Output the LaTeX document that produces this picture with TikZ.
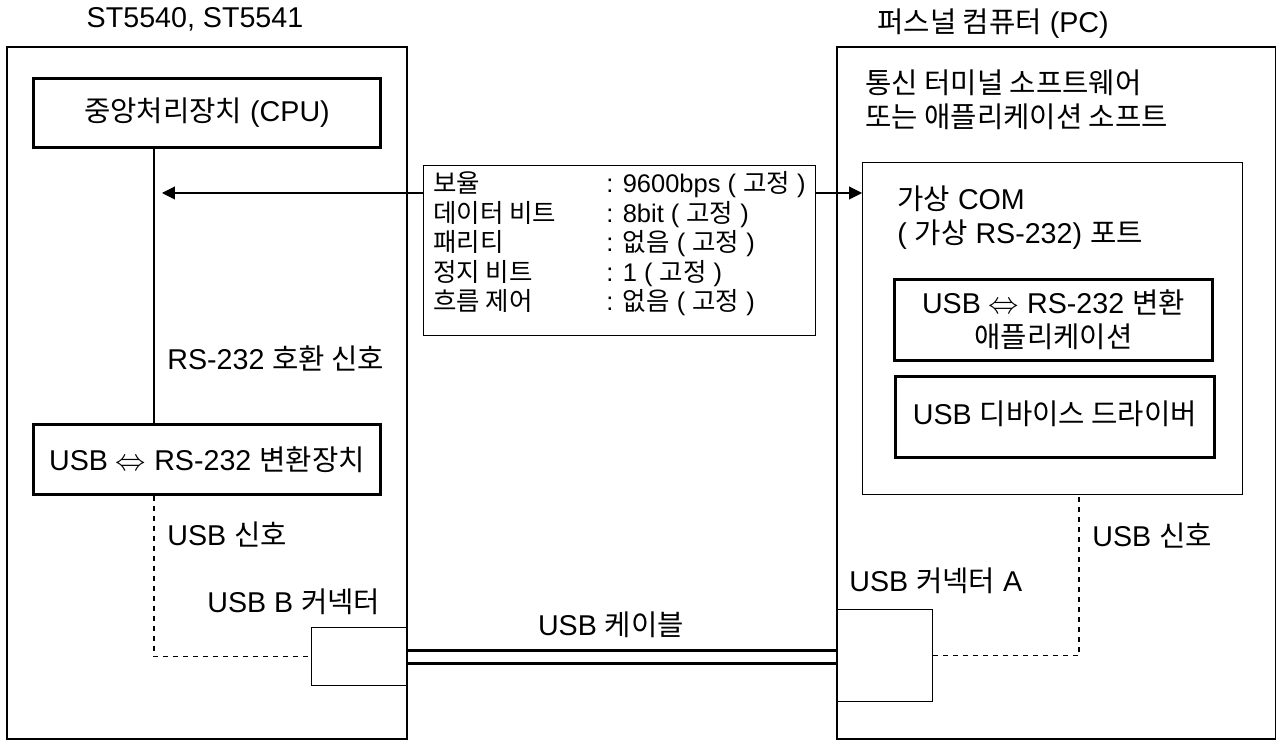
\documentclass[tikz,border=0pt]{standalone}
\usepackage{fontspec}
\setmainfont{Liberation Sans}
\newfontfamily\kr{Noto Sans CJK KR}
\usetikzlibrary{arrows.meta}

\tikzset{
    thinbox/.style={draw, line width=0.6pt, inner sep=0pt, anchor=north west, align=center},
    thickbox/.style={draw, line width=1.7pt, inner sep=0pt, anchor=north west, align=center},
    txt/.style={inner sep=0pt, align=left},
    sig/.style={line width=0.6pt, -{Triangle[length=0.26cm, width=0.26cm]}},
    usbline/.style={line width=0.6pt, dash pattern=on 0.1cm off 0.1cm},
    cable/.style={line width=1.7pt},
}

\begin{document}
\begin{tikzpicture}[x=0.02cm, y=-0.02cm, font=\fontsize{16.3}{19.5}\selectfont]
    \useasboundingbox (0,0) rectangle (1277,742);

    % LEFT: ST5540 / ST5541
    \node[txt] (devtitle) at (195,19) {ST5540, ST5541};
    \draw[line width=0.6pt] (7,47) rectangle (407,739);

    \node[thickbox, minimum width=6.94cm, minimum height=1.38cm] (cpu) at (32,77) {{\kr 중앙처리장치} (CPU)};
    \node[thickbox, minimum width=6.94cm, minimum height=1.40cm] (conv) at (32,423) {USB $\Leftrightarrow$ RS-232 {\kr 변환장치}};
    \node[thinbox, minimum width=1.92cm, minimum height=1.16cm] (lconn) at (311,627) {};

    \node[txt, anchor=west] (rstxt) at (167,358) {RS-232 {\kr 호환 신호}};
    \node[txt, anchor=west] (lusbtxt) at (167,535) {USB {\kr 신호}};
    \node[txt, anchor=west] (lconntxt) at (207,602) {USB B {\kr 커넥터}};

    % RIGHT: PC
    \node[txt] (pctitle) at (993,24) {{\kr 퍼스널 컴퓨터} (PC)};
    \draw[line width=0.6pt] (837,47) rectangle (1275.7,739);

    \node[txt, anchor=west] (softtxt) at (865,99.5) {{\kr 통신 터미널 소프트웨어}\\{\kr 또는 애플리케이션 소프트}};
    \node[thinbox, minimum width=7.60cm, minimum height=6.64cm] (port) at (862,162) {};
    \node[txt, anchor=west] (porttxt) at (897,217.5) {{\kr 가상} COM\\( {\kr 가상} RS-232) {\kr 포트}};
    \node[thickbox, minimum width=6.36cm, minimum height=1.62cm] (app) at (893,278) {USB $\Leftrightarrow$ RS-232 {\kr 변환}\\{\kr 애플리케이션}};
    \node[thickbox, minimum width=6.38cm, minimum height=1.62cm] (drv) at (894,375) {\raisebox{5pt}{USB {\kr 디바이스 드라이버}}};
    \node[thinbox, minimum width=1.90cm, minimum height=1.84cm] (rconn) at (837,609) {};

    \node[txt, anchor=west] (rusbtxt) at (1092,536) {USB {\kr 신호}};
    \node[txt, anchor=west] (rconntxt) at (849,581) {USB {\kr 커넥터} A};

    % Settings box
    \node[thinbox, minimum width=7.84cm, minimum height=3.40cm] (info) at (423,165) {%
        \fontsize{14.5}{16}\selectfont
        \begin{tabular}{@{}p{3.46cm}@{}l@{}}
            {\kr 보율}       & : 9600bps ( {\kr 고정} ) \\
            {\kr 데이터 비트} & : 8bit ( {\kr 고정} ) \\
            {\kr 패리티}     & : {\kr 없음} ( {\kr 고정} ) \\
            {\kr 정지 비트}   & : 1 ( {\kr 고정} ) \\
            {\kr 흐름 제어}   & : {\kr 없음} ( {\kr 고정} ) \\[6pt]
        \end{tabular}};

    % Connectors
    \coordinate (vx) at (154,193);
    \coordinate (tip) at (162,193);
    \coordinate (rx) at (1079,494);
    \draw[line width=0.6pt] (cpu.south -| vx) -- (conv.north -| vx);
    \draw[sig] (tip -| info.west) -- (tip);
    \draw[sig] (tip -| info.east) -- (tip -| port.west);
    \draw[usbline] (conv.south -| vx) |- (lconn.west);
    \draw[usbline] (rconn.east) -| (port.south -| rx);

    % USB cable
    \draw[cable] ([yshift=0.13cm]lconn.east) -- ([yshift=0.13cm]lconn.east -| rconn.west);
    \draw[cable] ([yshift=-0.13cm]lconn.east) -- ([yshift=-0.13cm]lconn.east -| rconn.west);
    \node[txt] (cabletxt) at (611,625) {USB {\kr 케이블}};

\end{tikzpicture}
\end{document}
